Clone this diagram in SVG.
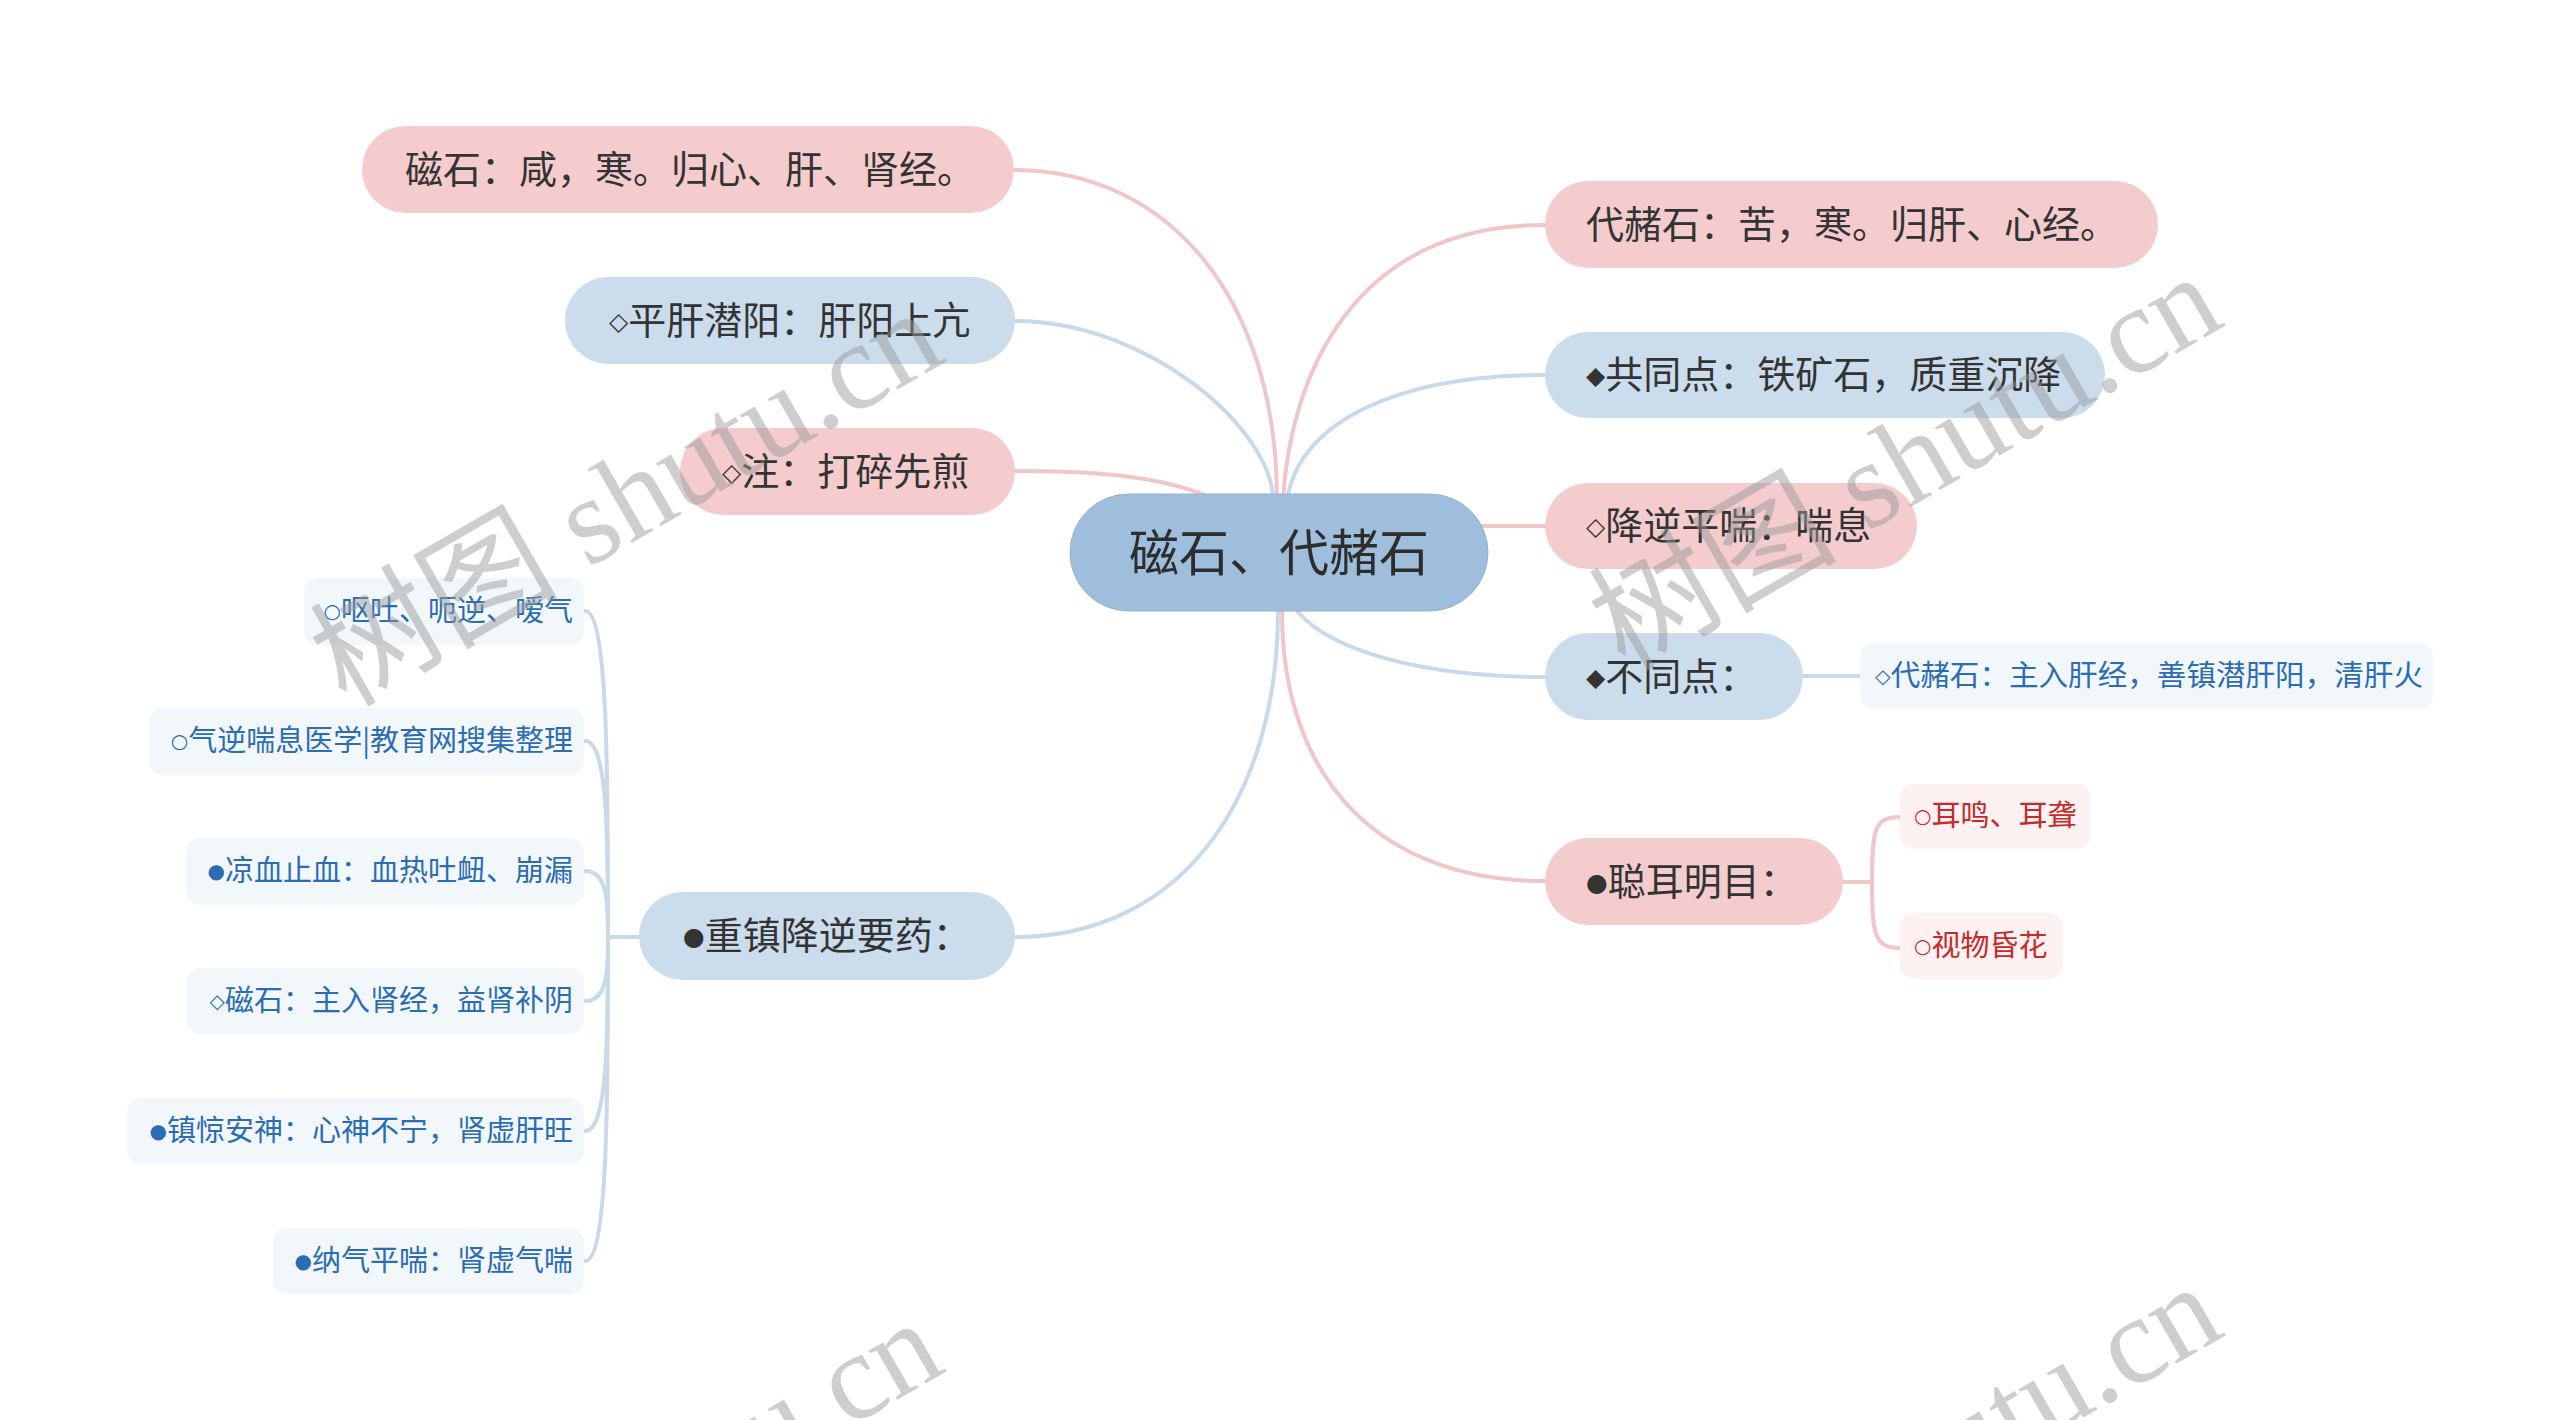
<svg xmlns="http://www.w3.org/2000/svg" width="2560" height="1420" viewBox="0 0 2560 1420">
<style>
text{font-family:"Noto Sans CJK SC","Noto Sans CJK TC",sans-serif}
.main{font-size:38px;fill:#333333}
.sub{font-size:29px}
.bl{fill:#2b6cb3}
.rd{fill:#c42b2b}
.b{font-family:"DejaVu Sans",sans-serif}
.main .b{font-size:25px}
.sub .b{font-size:20px}
.pk{fill:#f4cccd}
.bu{fill:#cbdcec}
.sbl{fill:#f2f7fc}
.spk{fill:#fdf1f1}
.lp{fill:none;stroke:#f0c7c8;stroke-width:4;stroke-linecap:round}
.lb{fill:none;stroke:#c8dae9;stroke-width:4;stroke-linecap:round}
.wm{font-family:"Liberation Serif","Noto Sans CJK SC",serif;font-size:124px;fill:#9a9a9a;opacity:0.48}
</style>
<rect width="2560" height="1420" fill="#ffffff"/>
<g id="connectors">
<path class="lp" d="M1014,170 C1170,170 1277,300 1277,500"/>
<path class="lb" d="M1015,321 C1150,321 1273,431 1273,500"/>
<path class="lp" d="M1015,471 C1150,471 1230,485 1279,553"/>
<path class="lb" d="M1278,560 L1278,611 C1278,800 1180,937 1015,937"/>
<path class="lp" d="M1283,500 C1290,380 1350,225 1545,225"/>
<path class="lb" d="M1287,500 C1300,420 1400,375 1545,375"/>
<path class="lp" d="M1480,526 H1545"/>
<path class="lb" d="M1290,600 L1297,611 C1330,650 1420,677 1545,677"/>
<path class="lp" d="M1282,600 L1282,611 C1282,780 1380,881 1545,881"/>
<path class="lb" d="M1803,676 H1860"/>
<path class="lp" d="M1843,882 H1872"/>
<path class="lp" d="M1872,882 C1872,830 1874,817 1900,817"/>
<path class="lp" d="M1872,882 C1872,934 1874,948 1900,948"/>
<path class="lb" d="M608,937 H640"/>
<path class="lb" d="M585,611 C608,611 608,774 608,937"/>
<path class="lb" d="M585,741 C608,741 608,839 608,937"/>
<path class="lb" d="M585,871 C608,871 608,904 608,937"/>
<path class="lb" d="M585,1001 C608,1001 608,969 608,937"/>
<path class="lb" d="M585,1131 C608,1131 608,1034 608,937"/>
<path class="lb" d="M585,1261 C608,1261 608,1099 608,937"/>
</g>
<g id="root">
<rect x="1070" y="494" width="418" height="117" rx="58.5" fill="#9ebedb" stroke="#93b3d2" stroke-width="1"/>
<text x="1279" y="571" font-size="50" fill="#2d2d2d" text-anchor="middle">磁石、代赭石</text>
</g>
<g id="n-cishi">
<rect class="pk" x="362" y="126" width="652" height="87" rx="43.5"/>
<text class="main" x="405" y="183">磁石：咸，寒。归心、肝、肾经。</text>
</g>
<g id="n-pinggan">
<rect class="bu" x="565" y="277" width="450" height="87" rx="43.5"/>
<text class="main" x="609" y="334"><tspan class="b" dy="-4">◇</tspan><tspan dy="4">平肝潜阳：肝阳上亢</tspan></text>
</g>
<g id="n-zhu">
<rect class="pk" x="680" y="428" width="335" height="87" rx="43.5"/>
<text class="main" x="722" y="485"><tspan class="b" dy="-4">◇</tspan><tspan dy="4">注：打碎先煎</tspan></text>
</g>
<g id="n-zhongzhen">
<rect class="bu" x="639" y="892" width="376" height="88" rx="44"/>
<text class="main" x="683" y="949"><tspan class="b" dy="-4">●</tspan><tspan dy="4">重镇降逆要药：</tspan></text>
</g>
<g id="n-daizheshi">
<rect class="pk" x="1545" y="181" width="613" height="87" rx="43.5"/>
<text class="main" x="1586" y="238">代赭石：苦，寒。归肝、心经。</text>
</g>
<g id="n-gongtong">
<rect class="bu" x="1545" y="332" width="560" height="86" rx="43"/>
<text class="main" x="1586" y="388"><tspan class="b" dy="-4">◆</tspan><tspan dy="4">共同点：铁矿石，质重沉降</tspan></text>
</g>
<g id="n-jiangni">
<rect class="pk" x="1545" y="483" width="372" height="86" rx="43"/>
<text class="main" x="1586" y="539"><tspan class="b" dy="-4">◇</tspan><tspan dy="4">降逆平喘：喘息</tspan></text>
</g>
<g id="n-butong">
<rect class="bu" x="1545" y="633" width="258" height="87" rx="43.5"/>
<text class="main" x="1586" y="690"><tspan class="b" dy="-4">◆</tspan><tspan dy="4">不同点：</tspan></text>
</g>
<g id="n-conger">
<rect class="pk" x="1545" y="838" width="298" height="87" rx="43.5"/>
<text class="main" x="1586" y="895"><tspan class="b" dy="-4">●</tspan><tspan dy="4">聪耳明目：</tspan></text>
</g>
<g id="s-daizheshi">
<rect class="sbl" x="1860" y="643" width="573" height="66" rx="14"/>
<text class="sub bl" x="1875" y="686" textLength="548" lengthAdjust="spacingAndGlyphs"><tspan class="b" dy="-3">◇</tspan><tspan dy="3">代赭石：主入肝经，善镇潜肝阳，清肝火</tspan></text>
</g>
<g id="s-erming">
<rect class="spk" x="1900" y="784" width="191" height="65" rx="14"/>
<text class="sub rd" x="1914" y="826"><tspan class="b" dy="-3">○</tspan><tspan dy="3">耳鸣、耳聋</tspan></text>
</g>
<g id="s-shiwu">
<rect class="spk" x="1900" y="913" width="163" height="66" rx="14"/>
<text class="sub rd" x="1914" y="956"><tspan class="b" dy="-3">○</tspan><tspan dy="3">视物昏花</tspan></text>
</g>
<g id="s-outu">
<rect class="sbl" x="304" y="578" width="280" height="67" rx="14"/>
<text class="sub bl" x="573" y="621" text-anchor="end"><tspan class="b" dy="-3">○</tspan><tspan dy="3">呕吐、呃逆、嗳气</tspan></text>
</g>
<g id="s-qini">
<rect class="sbl" x="149" y="708" width="435" height="67" rx="14"/>
<text class="sub bl" x="573" y="751" text-anchor="end"><tspan class="b" dy="-3">○</tspan><tspan dy="3">气逆喘息医学|教育网搜集整理</tspan></text>
</g>
<g id="s-liangxue">
<rect class="sbl" x="186" y="838" width="398" height="67" rx="14"/>
<text class="sub bl" x="573" y="881" text-anchor="end"><tspan class="b" dy="-3">●</tspan><tspan dy="3">凉血止血：血热吐衄、崩漏</tspan></text>
</g>
<g id="s-cishi">
<rect class="sbl" x="187" y="968" width="397" height="66" rx="14"/>
<text class="sub bl" x="573" y="1011" text-anchor="end"><tspan class="b" dy="-3">◇</tspan><tspan dy="3">磁石：主入肾经，益肾补阴</tspan></text>
</g>
<g id="s-zhenjing">
<rect class="sbl" x="127" y="1098" width="457" height="66" rx="14"/>
<text class="sub bl" x="573" y="1141" text-anchor="end"><tspan class="b" dy="-3">●</tspan><tspan dy="3">镇惊安神：心神不宁，肾虚肝旺</tspan></text>
</g>
<g id="s-naqi">
<rect class="sbl" x="273" y="1228" width="311" height="66" rx="14"/>
<text class="sub bl" x="573" y="1271" text-anchor="end"><tspan class="b" dy="-3">●</tspan><tspan dy="3">纳气平喘：肾虚气喘</tspan></text>
</g>
<g id="watermark">
<text class="wm" x="346" y="708" transform="rotate(-30 346 708)">树图 shutu.cn</text>
<text class="wm" x="1625" y="672" transform="rotate(-30 1625 672)">树图 shutu.cn</text>
<text class="wm" x="346" y="1718" transform="rotate(-30 346 1718)">树图 shutu.cn</text>
<text class="wm" x="1625" y="1682" transform="rotate(-30 1625 1682)">树图 shutu.cn</text>
</g>
</svg>
